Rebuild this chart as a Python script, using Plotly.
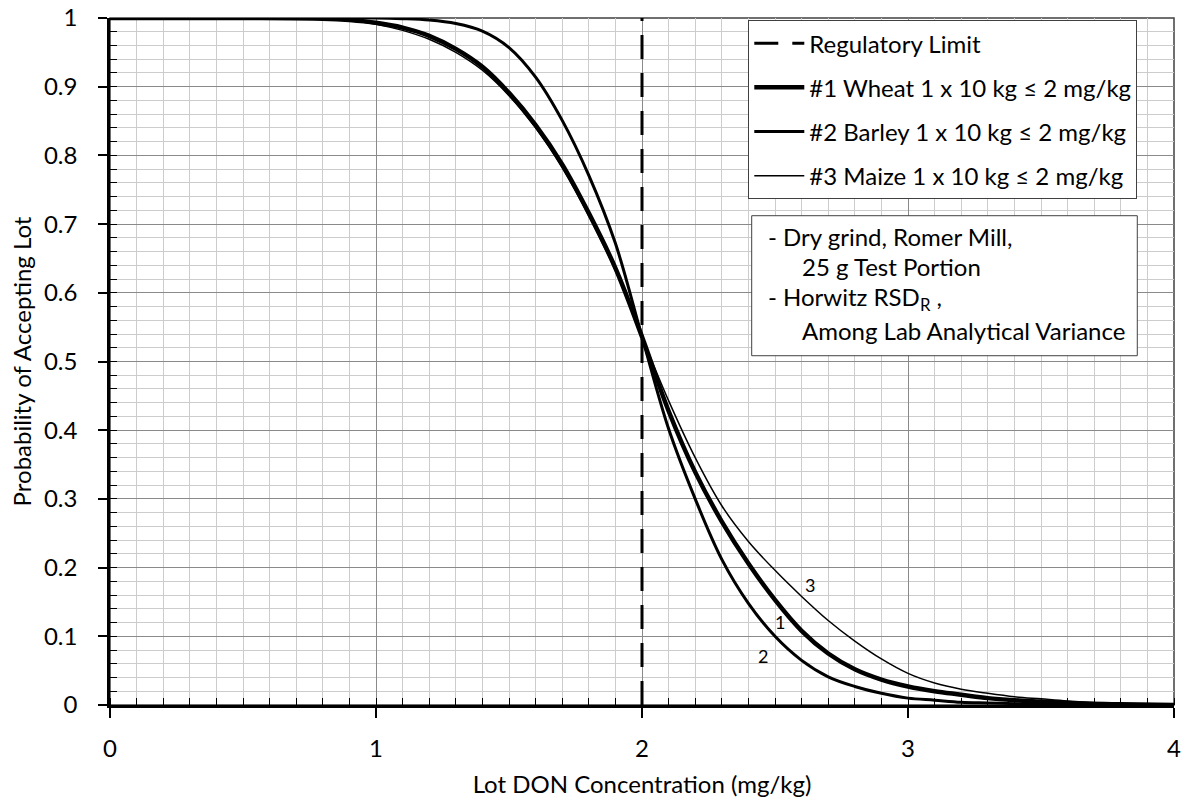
import plotly.graph_objects as go

# ---- data ----
conc = [0, 0.5, 0.8, 0.9, 1.0, 1.1, 1.2, 1.3, 1.4, 1.5, 1.6, 1.7, 1.8, 1.9, 2.0,
        2.1, 2.2, 2.3, 2.4, 2.5, 2.6, 2.7, 2.8, 2.9, 3.0, 3.1, 3.2, 3.3, 3.4,
        3.5, 3.6, 3.8, 4.0]

p_wheat = [1.0, 1.0, 0.999, 0.997, 0.993, 0.986, 0.974, 0.955, 0.929, 0.891, 0.844,
           0.787, 0.716, 0.636, 0.536, 0.428, 0.339, 0.267, 0.206, 0.153, 0.108,
           0.075, 0.052, 0.037, 0.027, 0.020, 0.015, 0.010, 0.007, 0.005, 0.003,
           0.001, 0.0]

p_barley = [1.0, 1.0, 1.0, 1.0, 1.0, 0.999, 0.997, 0.992, 0.981, 0.957, 0.914,
            0.851, 0.771, 0.672, 0.536, 0.402, 0.300, 0.212, 0.148, 0.100, 0.065,
            0.041, 0.027, 0.017, 0.010, 0.007, 0.004, 0.003, 0.002, 0.001, 0.001,
            0.0, 0.0]

p_maize = [1.0, 1.0, 0.998, 0.996, 0.991, 0.982, 0.969, 0.950, 0.924, 0.887, 0.840,
           0.782, 0.712, 0.632, 0.536, 0.443, 0.360, 0.290, 0.238, 0.196, 0.158,
           0.123, 0.093, 0.067, 0.046, 0.032, 0.023, 0.017, 0.012, 0.009, 0.006,
           0.002, 0.001]

limit_x = [2, 2]
limit_y = [0, 1]

names = ["Regulatory Limit",
         "#1 Wheat 1 x 10 kg \u2264 2 mg/kg",
         "#2 Barley 1 x 10 kg \u2264 2 mg/kg",
         "#3 Maize 1 x 10 kg \u2264 2 mg/kg"]

curve_labels = ["1", "2", "3"]
label_x = [2.52, 2.455, 2.633]
label_y = [0.121, 0.071, 0.175]

note_lines = ["- Dry grind, Romer Mill,",
              "25 g Test Portion",
              "- Horwitz RSD<sub>R</sub> ,",
              "Among Lab Analytical Variance"]

FONT = "Lato"
FS = 24

fig = go.Figure()
fig.add_trace(go.Scatter(x=limit_x, y=limit_y, mode="lines", name=names[0],
                         legendgroup="g0",
                         line=dict(color="black", width=3, dash="24px,14px")))
fig.add_trace(go.Scatter(x=conc, y=p_wheat, mode="lines", name=names[1],
                         legendgroup="g1",
                         line=dict(color="black", width=4.5, shape="spline", smoothing=1.0)))
fig.add_trace(go.Scatter(x=conc, y=p_barley, mode="lines", name=names[2],
                         legendgroup="g2",
                         line=dict(color="black", width=3, shape="spline", smoothing=1.0)))
fig.add_trace(go.Scatter(x=conc, y=p_maize, mode="lines", name=names[3],
                         legendgroup="g3",
                         line=dict(color="black", width=1.5, shape="spline", smoothing=1.0)))

for t, x, y in zip(curve_labels, label_x, label_y):
    fig.add_annotation(x=x, y=y, xref="x", yref="y", text=t, showarrow=False,
                       font=dict(family=FONT, size=18, color="black"))

# info box
fig.add_shape(type="rect", xref="paper", yref="paper",
              x0=0.6031, x1=0.9655, y0=0.5084, y1=0.7122,
              line=dict(color="#404040", width=1), fillcolor="white", layer="above")
note_x = [0.6165, 0.6485, 0.6165, 0.6485]
note_y = [0.6813, 0.6376, 0.5915, 0.5454]
for t, x, y in zip(note_lines, note_x, note_y):
    fig.add_annotation(x=x, y=y, xref="paper", yref="paper", text=t, showarrow=False,
                       xanchor="left", yanchor="middle",
                       font=dict(family=FONT, size=FS, color="black"))

# plot border (top/right)
fig.add_shape(type="rect", xref="paper", yref="paper", x0=0, x1=1, y0=0, y1=1,
              line=dict(color="#404040", width=1.5), layer="between")

fig.update_layout(
    width=1181, height=800,
    margin=dict(l=110, r=7, t=18, b=95, autoexpand=False),
    paper_bgcolor="white", plot_bgcolor="white",
    font=dict(family=FONT, size=FS, color="black"),
    showlegend=True,
    legend=dict(x=0.5999, y=0.997, xanchor="left", yanchor="top",
                bgcolor="white", bordercolor="#404040", borderwidth=1,
                font=dict(family=FONT, size=FS, color="black"),
                traceorder="grouped", tracegroupgap=10, itemwidth=50),
)

fig.update_xaxes(
    range=[0, 4], dtick=1, tick0=0, automargin=False,
    showline=True, linecolor="black", linewidth=2.5, mirror=False,
    ticks="outside", ticklen=10, tickwidth=1.5, tickcolor="black",
    ticklabelstandoff=10, ticklabeloverflow="allow",
    showgrid=True, gridcolor="#8a8a8a", gridwidth=1,
    zeroline=False,
    minor=dict(dtick=0.1, ticks="inside", ticklen=7, tickwidth=1.3, tickcolor="black",
               showgrid=True, gridcolor="#cccccc", gridwidth=1.3),
    title=dict(text="Lot DON Concentration (mg/kg)", standoff=16,
               font=dict(family=FONT, size=FS)),
)
fig.update_yaxes(
    range=[0, 1], dtick=0.1, tick0=0, automargin=False,
    showline=True, linecolor="black", linewidth=2.5, mirror=False,
    ticks="outside", ticklen=9, tickwidth=1.5, tickcolor="black",
    ticklabelstandoff=16, ticklabeloverflow="allow",
    showgrid=True, gridcolor="#8a8a8a", gridwidth=1,
    zeroline=False,
    minor=dict(dtick=0.02, ticks="inside", ticklen=7, tickwidth=1.3, tickcolor="black",
               showgrid=True, gridcolor="#cccccc", gridwidth=1.3),
    title=dict(text="Probability of Accepting Lot", standoff=6,
               font=dict(family=FONT, size=FS)),
)

fig.write_html("out.html", config={"displayModeBar": False},
               post_script="document.body.style.margin='0';document.body.style.overflow='hidden';")
